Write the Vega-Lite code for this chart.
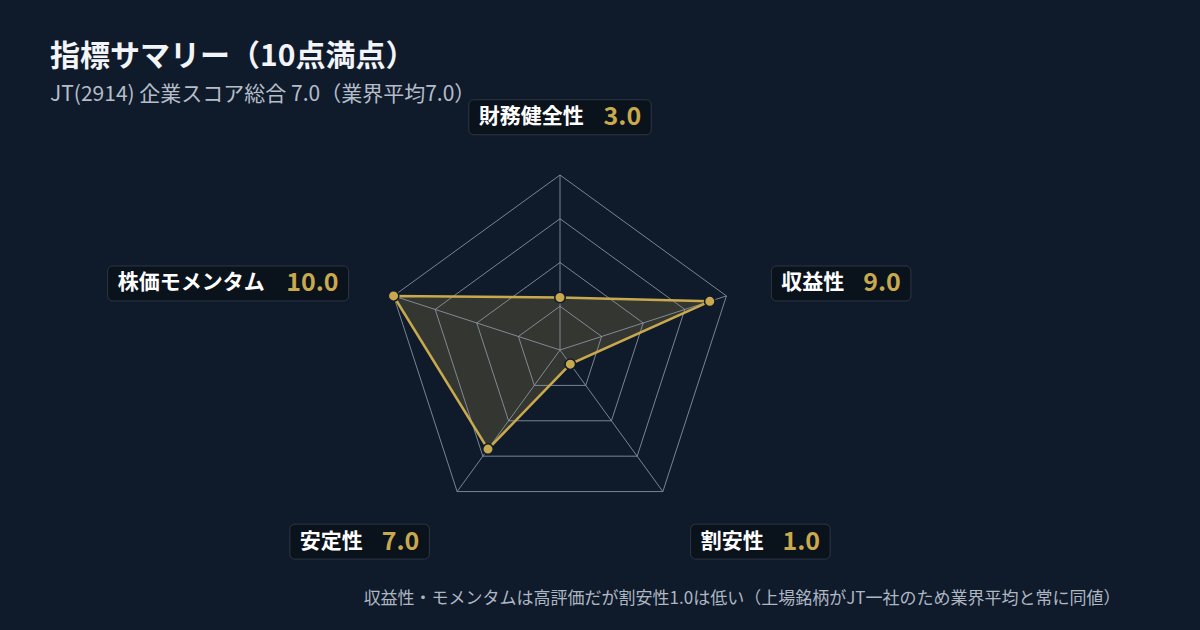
{
  "$schema": "https://vega.github.io/schema/vega-lite/v6.json",
  "background": "#0f1b2b",
  "autosize": {"type": "none"},
  "padding": {"left": 0, "top": 105, "right": 80, "bottom": 70},
  "width": 1120,
  "height": 455,
  "title": {
    "text": "指標サマリー（10点満点）",
    "subtitle": "JT(2914) 企業スコア総合 7.0（業界平均7.0）",
    "anchor": "start",
    "frame": "group",
    "dx": 50,
    "dy": 8,
    "offset": 2,
    "font": "Noto Sans CJK JP",
    "fontSize": 30,
    "fontWeight": "bold",
    "color": "#f2f4f7",
    "subtitleFont": "Noto Sans CJK JP",
    "subtitleFontSize": 21,
    "subtitleColor": "#b5bdc9",
    "subtitlePadding": 12
  },
  "data": {
    "values": [
      {"axis": "財務健全性", "score": 3.0},
      {"axis": "収益性", "score": 9.0},
      {"axis": "割安性", "score": 1.0},
      {"axis": "安定性", "score": 7.0},
      {"axis": "株価モメンタム", "score": 10.0}
    ]
  },
  "transform": [
    {"window": [{"op": "row_number", "as": "rn"}]},
    {"calculate": "(datum.rn - 1) * 2 * PI / 5", "as": "a"},
    {"calculate": "sin(datum.a)", "as": "sx"},
    {"calculate": "cos(datum.a)", "as": "sy"},
    {"calculate": "format(datum.score, '.1f')", "as": "val"},
    {"calculate": "12.7 * datum.sx", "as": "ax"},
    {"calculate": "12.3 * datum.sy", "as": "ay"},
    {"calculate": "(36 + length(datum.axis) * 21.5 + (length(datum.val) - 1) * 15.5 + 8) / 17.5", "as": "w"},
    {"calculate": "datum.sx > 0.3 ? datum.ax : (datum.sx < -0.3 ? datum.ax - datum.w : datum.ax - datum.w / 2)", "as": "bx1"},
    {"calculate": "datum.bx1 + datum.w", "as": "bx2"},
    {"calculate": "datum.sy > 0.5 ? datum.ay : (datum.sy < -0.5 ? datum.ay - 2 : datum.ay - 1)", "as": "by1"}
  ],
  "encoding": {
    "x": {
      "field": "X",
      "type": "quantitative",
      "scale": {"domain": [-32, 32], "zero": false, "nice": false},
      "axis": {
        "title": "収益性・モメンタムは高評価だが割安性1.0は低い（上場銘柄がJT一社のため業界平均と常に同値）",
        "titleAnchor": "end",
        "titleFont": "Noto Sans CJK JP",
        "titleFontSize": 17,
        "titleFontWeight": "normal",
        "titleColor": "#aeb6c2",
        "titlePadding": 30,
        "domain": false,
        "ticks": false,
        "labels": false,
        "grid": false
      }
    },
    "y": {
      "field": "Y",
      "type": "quantitative",
      "scale": {"domain": [-12, 14], "zero": false, "nice": false},
      "axis": null
    }
  },
  "layer": [
    {
      "transform": [
        {"calculate": "datum.score * datum.sx", "as": "X"},
        {"calculate": "datum.score * datum.sy", "as": "Y"}
      ],
      "mark": {"type": "line", "interpolate": "linear-closed", "fill": "#c9a94d", "fillOpacity": 0.2, "strokeWidth": 0},
      "encoding": {"order": {"field": "rn"}}
    },
    {
      "transform": [
        {"calculate": "[2.5, 5, 7.5, 10]", "as": "level"},
        {"flatten": ["level"]},
        {"calculate": "datum.level * datum.sx", "as": "X"},
        {"calculate": "datum.level * datum.sy", "as": "Y"}
      ],
      "mark": {"type": "line", "interpolate": "linear-closed", "color": "#929cab", "strokeWidth": 0.9, "opacity": 0.9},
      "encoding": {"detail": {"field": "level"}, "order": {"field": "rn"}}
    },
    {
      "transform": [
        {"calculate": "10 * datum.sx", "as": "X"},
        {"calculate": "10 * datum.sy", "as": "Y"}
      ],
      "mark": {"type": "rule", "color": "#929cab", "strokeWidth": 0.9, "opacity": 0.9},
      "encoding": {"x2": {"datum": 0}, "y2": {"datum": 0}}
    },
    {
      "transform": [
        {"calculate": "datum.score * datum.sx", "as": "X"},
        {"calculate": "datum.score * datum.sy", "as": "Y"}
      ],
      "mark": {"type": "line", "interpolate": "linear-closed", "color": "#c9a94d", "strokeWidth": 2.5},
      "encoding": {"order": {"field": "rn"}}
    },
    {
      "transform": [
        {"calculate": "datum.score * datum.sx", "as": "X"},
        {"calculate": "datum.score * datum.sy", "as": "Y"}
      ],
      "mark": {"type": "point", "filled": true, "color": "#c9a94d", "size": 110, "stroke": "#0f1b2b", "strokeWidth": 1.5, "opacity": 1},
      "encoding": {}
    },
    {
      "transform": [
        {"calculate": "datum.bx1", "as": "X"},
        {"calculate": "datum.by1", "as": "Y"},
        {"calculate": "datum.by1 + 2", "as": "Y2"}
      ],
      "mark": {"type": "rect", "fill": "#0a121c", "stroke": "#2c3745", "strokeWidth": 1, "cornerRadius": 5},
      "encoding": {"x2": {"field": "bx2"}, "y2": {"field": "Y2"}}
    },
    {
      "transform": [
        {"calculate": "datum.bx1", "as": "X"},
        {"calculate": "datum.by1 + 1", "as": "Y"}
      ],
      "mark": {"type": "text", "align": "left", "baseline": "middle", "xOffset": 10, "font": "Noto Sans CJK JP", "fontSize": 21, "fontWeight": "bold", "color": "#ffffff"},
      "encoding": {"text": {"field": "axis"}}
    },
    {
      "transform": [
        {"calculate": "datum.bx2", "as": "X"},
        {"calculate": "datum.by1 + 1", "as": "Y"}
      ],
      "mark": {"type": "text", "align": "right", "baseline": "middle", "xOffset": -10, "font": "Noto Sans CJK JP", "fontSize": 25, "fontWeight": "bold", "color": "#c9a94d"},
      "encoding": {"text": {"field": "val"}}
    }
  ],
  "config": {"view": {"stroke": null}}
}
